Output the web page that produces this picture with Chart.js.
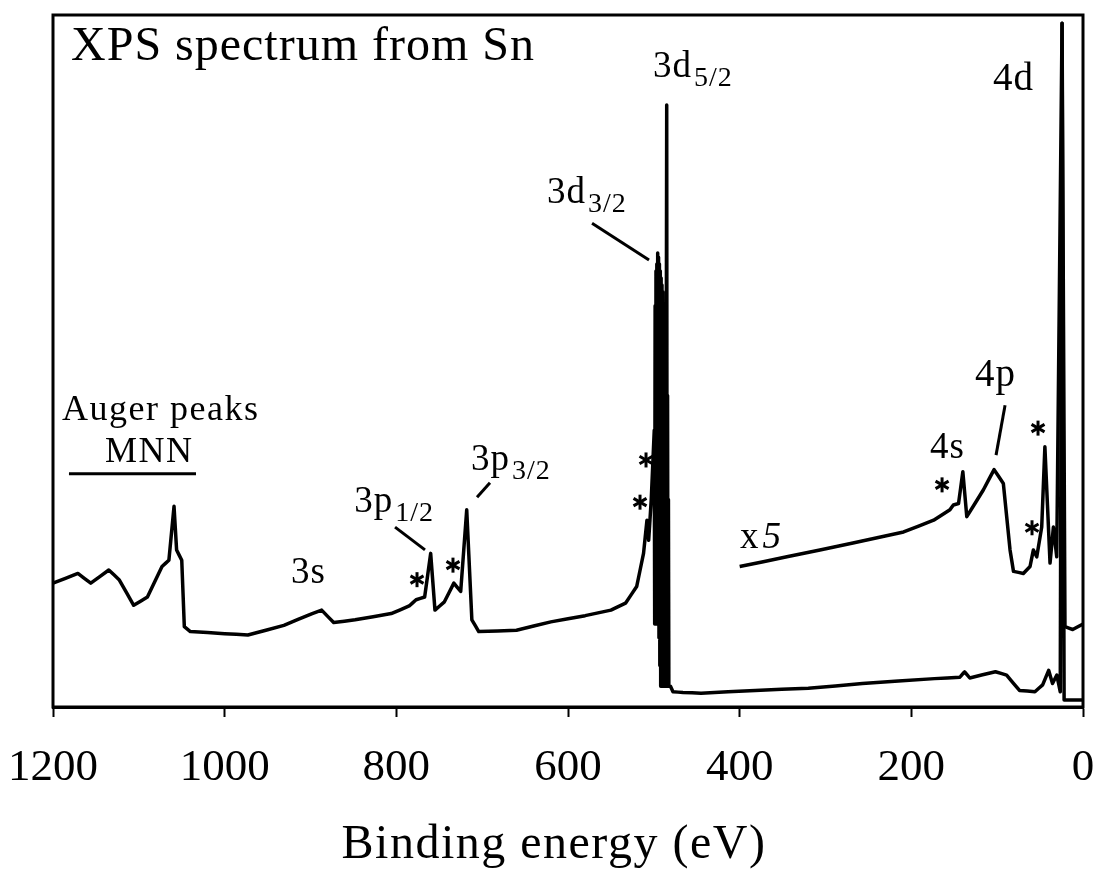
<!DOCTYPE html>
<html>
<head>
<meta charset="utf-8">
<script src="https://cdn.jsdelivr.net/npm/chart.js@4.4.1/dist/chart.umd.min.js"></script>
<style>
  html, body { margin: 0; padding: 0; background: #fff; }
</style>
</head>
<body>
<canvas id="xps" width="1097" height="872"></canvas>
<script>
// binding energy ticks (eV), axis runs 1200 -> 0
const xTicks = [1200, 1000, 800, 600, 400, 200, 0];

// main survey spectrum (arbitrary intensity units, 0-100 = full frame)
// the 3d doublet is drawn as a dense run of points, as in the original trace
const mainEnergy = [1200, 1171, 1156, 1135, 1123, 1106, 1090, 1073, 1065, 1059, 1056, 1050, 1047, 1040,
  1000, 973, 931, 898, 887, 873, 848, 806, 785, 777, 767, 760, 755, 744, 733, 725, 718, 712, 704, 660,
  620, 580, 550, 533, 520, 512, 508, 506,
  503, 499.5, 499, 498.5, 498, 497.5, 497, 496.5, 496, 495.5, 495, 494.5, 494, 493.5, 493, 492.5,
  492, 491.5, 491, 490.5, 490, 489.5, 489, 488.5, 488, 487.5, 487, 486.5, 486, 485.5, 485, 484.5,
  484, 483.5, 483, 482.5, 482,
  480.6, 477.7, 466, 445, 382, 320, 257, 173, 143.5, 138, 132, 102, 89,
  74, 56, 47, 40, 35.5, 30.5, 26.5, 24.4, 22, 0];
const mainCounts = [17.9, 19.3, 17.9, 19.8, 18.4, 14.7, 15.9, 20.3, 21.2, 29.0, 22.7, 21.2, 11.6, 10.9,
  10.6, 10.4, 11.8, 13.5, 14.0, 12.2, 12.6, 13.5, 14.6, 15.5, 15.9, 22.2, 14.0, 15.2, 17.9, 16.7, 28.5, 12.6, 10.9, 11.1,
  12.3, 13.2, 14.0, 15.0, 17.4, 22.2, 27.0, 24.1,
  30, 40, 12, 58, 12, 63, 12, 64, 12, 65.6, 12, 65, 10, 64, 6, 63,
  3, 62, 3, 61, 3, 60, 3, 58, 3, 56, 3, 52, 3, 50, 87, 3,
  45, 3, 30, 3, 3,
  3.0, 2.2, 2.1, 2.0, 2.4, 2.7, 3.4, 4.1, 4.3, 5.1, 4.2, 5.1, 4.6,
  2.4, 2.2, 3.2, 5.3, 3.4, 4.6, 2.2, 98.8, 1.0, 1.0];

// low binding energy region magnified x5
const x5Energy = [400, 345, 268, 209, 174, 155, 151, 145, 140, 135.4, 116, 103.6, 92.8, 85, 81, 69.5,
  61.7, 57.8, 53.9, 48.1, 44.4, 38.4, 34.5, 30.6, 24.4, 21, 12, 0];
const x5Counts = [20.3, 21.7, 23.7, 25.3, 27.0, 28.5, 29.2, 29.4, 34.0, 27.5, 31.4, 34.3, 32.3, 22.7, 19.6, 19.3,
  20.3, 22.7, 21.7, 26.0, 37.6, 20.8, 26.0, 21.7, 98.8, 11.6, 11.2, 12.0];

// peak labels, placed in data coordinates (energy, intensity)
const peakLabels = [
  { text: 'XPS spectrum from Sn', e: 1179, v: 93.5, size: 48, spacing: 1 },
  { text: 'Auger peaks', e: 1189.5, v: 41.5, size: 36, spacing: 1.5 },
  { text: 'MNN', e: 1139.4, v: 35.4, size: 36, spacing: 1.5 },
  { text: '3s', e: 922.7, v: 17.9, size: 37, spacing: 1 },
  { text: '3p', sub: '1/2', e: 849, v: 28.2, size: 37, spacing: 1 },
  { text: '3p', sub: '3/2', e: 713, v: 34.2, size: 37, spacing: 1 },
  { text: '3d', sub: '3/2', e: 624.4, v: 72.8, size: 37, spacing: 1 },
  { text: '3d', sub: '5/2', e: 500.9, v: 91.0, size: 37, spacing: 1 },
  { text: '4d', e: 104.8, v: 89.2, size: 39, spacing: 1 },
  { text: '4s', e: 178.2, v: 36.0, size: 37, spacing: 1 },
  { text: '4p', e: 125.8, v: 46.4, size: 39, spacing: 1 },
  { text: 'x', italic: '5', e: 399.6, v: 23.0, size: 37, spacing: 1 }
];
const axisTitle = 'Binding energy (eV)';
const leaderLines = [
  [1181.4, 33.7, 1033.4, 33.7],
  [801.5, 26.0, 766.6, 22.7],
  [706.0, 30.3, 690.9, 32.4],
  [572.0, 69.9, 505.6, 64.6],
  [90.8, 43.6, 101.3, 36.4]
];
const satellites = [[775.9, 18.4], [734.0, 20.5], [516.1, 29.6], [509.1, 35.7],
  [164.2, 32.1], [59.4, 25.9], [52.4, 40.3]];

const serif = "'Liberation Serif', 'Times New Roman', serif";

function toPoints(xs, ys) {
  return xs.map((x, i) => ({ x: x, y: ys[i] }));
}

const annotate = {
  id: 'annotate',
  afterDraw(chart) {
    const { ctx, chartArea: a, scales: { x, y } } = chart;
    ctx.save();
    ctx.strokeStyle = '#000';
    ctx.fillStyle = '#000';
    ctx.lineWidth = 3;
    ctx.strokeRect(a.left, a.top, a.right - a.left, a.bottom - a.top);

    ctx.textBaseline = 'alphabetic';
    ctx.textAlign = 'left';
    peakLabels.forEach(l => {
      const px = x.getPixelForValue(l.e);
      const py = y.getPixelForValue(l.v);
      ctx.letterSpacing = l.spacing + 'px';
      ctx.font = l.size + 'px ' + serif;
      ctx.fillText(l.text, px, py);
      const w = ctx.measureText(l.text).width;
      if (l.sub) {
        ctx.font = Math.round(l.size * 0.75) + 'px ' + serif;
        ctx.fillText(l.sub, px + w + 2, py + 9);
      }
      if (l.italic) {
        ctx.font = 'italic ' + l.size + 'px ' + serif;
        ctx.fillText(l.italic, px + w + 3, py);
      }
    });

    // x axis title, a little left of the frame centre as in the original
    ctx.letterSpacing = '1.5px';
    ctx.font = '48px ' + serif;
    ctx.textAlign = 'center';
    ctx.fillText(axisTitle, (a.left + a.right) / 2 - 14, a.bottom + 151);
    ctx.letterSpacing = '0px';

    leaderLines.forEach(s => {
      ctx.beginPath();
      ctx.moveTo(x.getPixelForValue(s[0]), y.getPixelForValue(s[1]));
      ctx.lineTo(x.getPixelForValue(s[2]), y.getPixelForValue(s[3]));
      ctx.stroke();
    });

    // asterisks marking satellite peaks
    satellites.forEach(s => {
      const cx = x.getPixelForValue(s[0]);
      const cy = y.getPixelForValue(s[1]);
      for (let k = 0; k < 3; k++) {
        const ang = Math.PI / 2 + k * Math.PI / 3;
        ctx.beginPath();
        ctx.moveTo(cx - 7.5 * Math.cos(ang), cy - 7.5 * Math.sin(ang));
        ctx.lineTo(cx + 7.5 * Math.cos(ang), cy + 7.5 * Math.sin(ang));
        ctx.stroke();
      }
    });
    ctx.restore();
  }
};

new Chart(document.getElementById('xps'), {
  type: 'line',
  data: {
    datasets: [
      {
        label: 'Sn',
        data: toPoints(mainEnergy, mainCounts),
        borderColor: '#000',
        borderWidth: 3.5,
        borderJoinStyle: 'round',
        pointRadius: 0,
        tension: 0.001,
        fill: false
      },
      {
        label: 'x5',
        data: toPoints(x5Energy, x5Counts),
        borderColor: '#000',
        borderWidth: 3.5,
        borderJoinStyle: 'round',
        pointRadius: 0,
        tension: 0.001,
        fill: false
      }
    ]
  },
  options: {
    responsive: false,
    animation: false,
    layout: {
      padding: { left: 53, right: 14, top: 15, bottom: 0 }
    },
    plugins: {
      legend: { display: false },
      tooltip: { enabled: false }
    },
    scales: {
      x: {
        type: 'linear',
        reverse: true,
        min: 0,
        max: 1200,
        afterBuildTicks: axis => {
          axis.ticks = xTicks.map(v => ({ value: v }));
        },
        afterFit: axis => {
          axis.paddingLeft = 0;
          axis.paddingRight = 0;
          axis.height = 165;
        },
        grid: {
          display: true,
          drawOnChartArea: false,
          drawTicks: true,
          tickLength: 10,
          tickWidth: 2,
          tickColor: '#000'
        },
        border: { display: true, color: '#000', width: 3 },
        ticks: {
          color: '#000',
          font: { family: serif, size: 45 },
          padding: 24,
          maxRotation: 0,
          autoSkip: false,
          callback: v => String(v)
        },
        title: { display: false }
      },
      y: {
        display: false,
        min: 0,
        max: 100
      }
    }
  },
  plugins: [annotate]
});
</script>
</body>
</html>
